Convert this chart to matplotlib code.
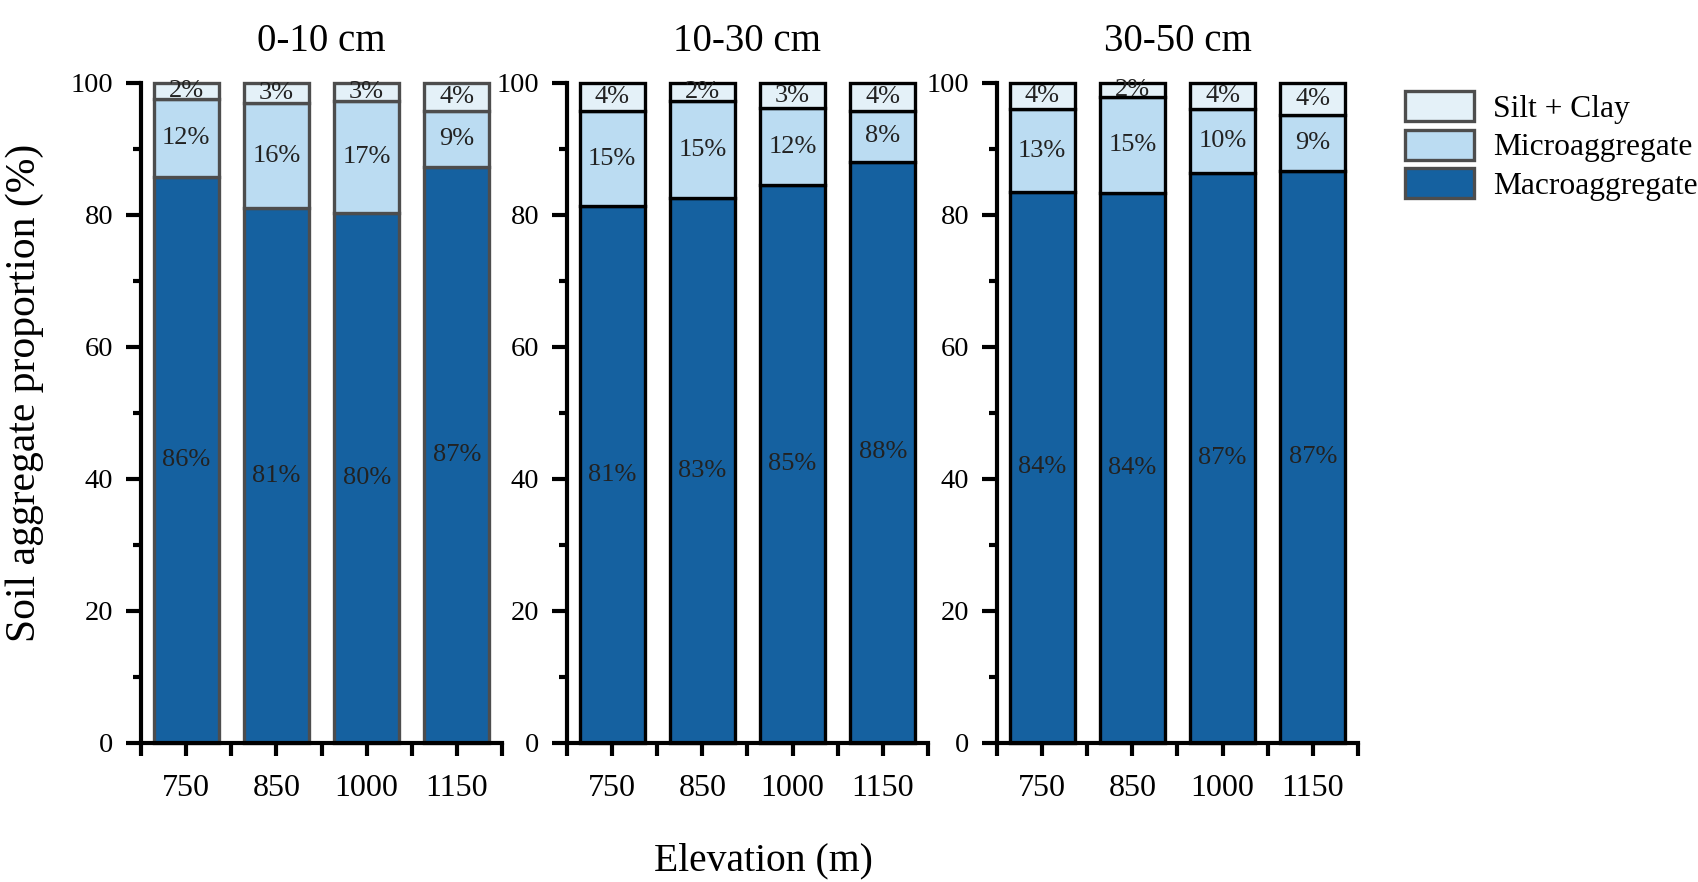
import numpy as np
import matplotlib.pyplot as plt
from matplotlib.ticker import MultipleLocator, FixedLocator

plt.rcParams['font.family'] = ['Liberation Serif', 'DejaVu Serif']

elevations = ['750', '850', '1000', '1150']
depths = ['0-10 cm', '10-30 cm', '30-50 cm']

# stacked segment heights (%), one row per depth
macro = [[85.8, 81.0, 80.3, 87.2],
         [81.3, 82.5, 84.5, 88.1],
         [83.5, 83.3, 86.3, 86.6]]
micro = [[11.7, 15.9, 16.9, 8.5],
         [14.4, 14.8, 11.7, 7.6],
         [12.5, 14.6, 9.7, 8.6]]
silt = [[2.5, 3.1, 2.8, 4.3],
        [4.3, 2.7, 3.8, 4.3],
        [4.0, 2.1, 4.0, 4.8]]

# printed percentages
macro_lab = [[86, 81, 80, 87], [81, 83, 85, 88], [84, 84, 87, 87]]
micro_lab = [[12, 16, 17, 9], [15, 15, 12, 8], [13, 15, 10, 9]]
silt_lab = [[2, 3, 3, 4], [4, 2, 3, 4], [4, 2, 4, 4]]

c_macro = '#1561a0'
c_micro = '#bbdcf2'
c_silt = '#e4f1f8'
edges = ['#4d4d4d', 'black', 'black']

fig = plt.figure(figsize=(16.99, 8.82), dpi=100)
lefts = [141, 567, 997]
x = np.arange(len(elevations))
w = 0.72

for i in range(3):
    ax = fig.add_axes([lefts[i] / 1699, 1 - 743 / 882, 361 / 1699, 660 / 882])
    m = np.array(macro[i]); mi = np.array(micro[i]); s = np.array(silt[i])
    b1 = ax.bar(x, m, w, color=c_macro, edgecolor=edges[i], linewidth=2.4, clip_on=False, label='Macroaggregate')
    b2 = ax.bar(x, mi, w, bottom=m, color=c_micro, edgecolor=edges[i], linewidth=2.4, clip_on=False, label='Microaggregate')
    b3 = ax.bar(x, s, w, bottom=m + mi, color=c_silt, edgecolor=edges[i], linewidth=2.4, clip_on=False, label='Silt + Clay')
    for j in range(len(x)):
        ax.text(x[j], m[j] / 2, f'{macro_lab[i][j]}%', ha='center', va='center', fontsize=19, color='#222222')
        ax.text(x[j], m[j] + mi[j] / 2, f'{micro_lab[i][j]}%', ha='center', va='center', fontsize=19, color='#222222')
        ax.text(x[j], m[j] + mi[j] + s[j] / 2, f'{silt_lab[i][j]}%', ha='center', va='center', fontsize=19, color='#222222')
    if i == 0:
        handles = [b3, b2, b1]

    ax.set_xlim(-0.5, 3.5)
    ax.set_ylim(0, 100)
    ax.set_xticks(x)
    ax.set_xticklabels(elevations)
    ax.xaxis.set_minor_locator(FixedLocator([-0.5, 0.5, 1.5, 2.5, 3.5]))
    ax.yaxis.set_major_locator(MultipleLocator(20))
    ax.yaxis.set_minor_locator(MultipleLocator(10))
    for sp in ['top', 'right']:
        ax.spines[sp].set_visible(False)
    for sp in ['left', 'bottom']:
        ax.spines[sp].set_linewidth(3)
    ax.tick_params(axis='x', which='both', length=9.5, width=3, direction='out', labelsize=23, pad=13)
    ax.tick_params(axis='y', which='major', length=11, width=3, labelsize=20.5, pad=9)
    ax.tick_params(axis='y', which='minor', length=6, width=3)
    ax.set_title(depths[i], fontsize=28, pad=23)

fig.text(25 / 1699, 0.554, 'Soil aggregate proportion (%)', rotation=90, ha='center', va='center', fontsize=30)
fig.text(763 / 1699, 1 - 861 / 882, 'Elevation (m)', ha='center', va='center', fontsize=28.5)

fig.legend(handles=handles, labels=['Silt + Clay', 'Microaggregate', 'Macroaggregate'],
           loc='upper left', bbox_to_anchor=(1405 / 1699, 1 - 91 / 882), frameon=False,
           fontsize=22.7, handlelength=2.2, handleheight=1.1, handletextpad=0.6,
           labelspacing=0.18, borderpad=0, borderaxespad=0)

fig.savefig('out.png', dpi=100)
